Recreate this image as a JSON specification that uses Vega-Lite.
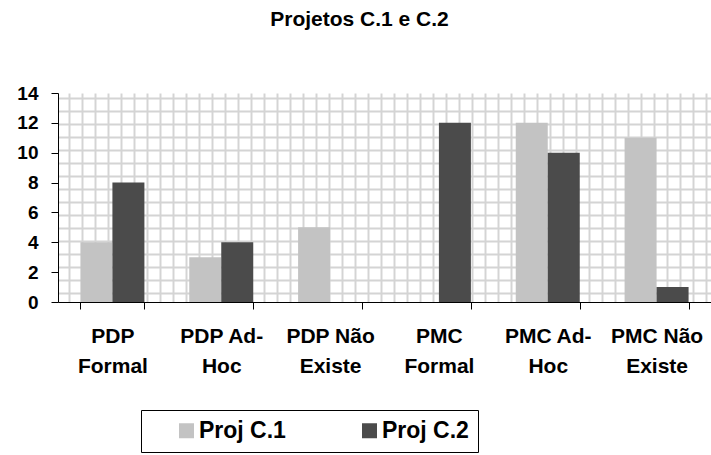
{
  "$schema": "https://vega.github.io/schema/vega-lite/v6.json",
  "width": 653,
  "height": 209,
  "autosize": {"type": "none"},
  "padding": {"left": 58, "top": 93, "right": 0, "bottom": 153},
  "background": "white",
  "config": {
    "view": {"stroke": null},
    "font": "Liberation Sans"
  },
  "title": {
    "text": "Projetos C.1 e C.2",
    "font": "Liberation Sans",
    "fontSize": 21,
    "fontWeight": "bold",
    "color": "black",
    "anchor": "middle",
    "baseline": "alphabetic",
    "offset": 37,
    "dx": -25
  },
  "layer": [
    {
      "data": {"values": [{"gx": 1, "gy": 1}]},
      "mark": {"type": "point", "opacity": 0},
      "encoding": {
        "x": {
          "field": "gx",
          "type": "quantitative",
          "scale": {"domain": [0.154, 50.385], "nice": false, "zero": false},
          "axis": {"orient": "top", "grid": true, "labels": false, "ticks": false, "domain": false, "title": null, "tickCount": 50, "gridColor": "#d4d4d4", "gridWidth": 2, "gridOpacity": 1}
        },
        "y": {
          "field": "gy",
          "type": "quantitative",
          "scale": {"domain": [0.308, 16.385], "nice": false, "zero": false},
          "axis": {"orient": "right", "grid": true, "labels": false, "ticks": false, "domain": false, "title": null, "tickCount": 16, "gridColor": "#d4d4d4", "gridWidth": 2, "gridOpacity": 1}
        }
      }
    },
    {
      "data": {
        "values": [
          {"categoria": "PDP Formal", "serie": "Proj C.1", "valor": 4},
          {"categoria": "PDP Formal", "serie": "Proj C.2", "valor": 8},
          {"categoria": "PDP Ad-Hoc", "serie": "Proj C.1", "valor": 3},
          {"categoria": "PDP Ad-Hoc", "serie": "Proj C.2", "valor": 4},
          {"categoria": "PDP Não Existe", "serie": "Proj C.1", "valor": 5},
          {"categoria": "PDP Não Existe", "serie": "Proj C.2", "valor": 0},
          {"categoria": "PMC Formal", "serie": "Proj C.1", "valor": 0},
          {"categoria": "PMC Formal", "serie": "Proj C.2", "valor": 12},
          {"categoria": "PMC Ad-Hoc", "serie": "Proj C.1", "valor": 12},
          {"categoria": "PMC Ad-Hoc", "serie": "Proj C.2", "valor": 10},
          {"categoria": "PMC Não Existe", "serie": "Proj C.1", "valor": 11},
          {"categoria": "PMC Não Existe", "serie": "Proj C.2", "valor": 1}
        ]
      },
      "mark": {"type": "bar"},
      "encoding": {
        "x": {
          "field": "categoria",
          "type": "nominal",
          "sort": null,
          "scale": {"paddingInner": 0.412, "paddingOuter": 0.206},
          "axis": {
            "title": null,
            "labelAngle": 0,
            "labelFont": "Liberation Sans",
            "labelFontSize": 21,
            "labelFontWeight": "bold",
            "labelColor": "black",
            "labelPadding": 16,
            "labelLineHeight": 30,
            "labelBaseline": "top",
            "labelLimit": 0,
            "labelExpr": "split(replace(replace(replace(datum.label, ' Formal', '|Formal'), ' Existe', '|Existe'), 'Ad-', 'Ad-|'), '|')",
            "tickBand": "extent",
            "tickSize": 7,
            "tickColor": "black",
            "domainColor": "black",
            "grid": false
          }
        },
        "xOffset": {"field": "serie", "type": "nominal"},
        "y": {
          "field": "valor",
          "type": "quantitative",
          "scale": {"domain": [0, 14], "nice": false},
          "axis": {
            "title": null,
            "values": [0, 2, 4, 6, 8, 10, 12, 14],
            "labelFont": "Liberation Sans",
            "labelFontSize": 19,
            "labelFontWeight": "bold",
            "labelColor": "black",
            "labelPadding": 13,
            "tickSize": 7,
            "tickColor": "black",
            "domainColor": "black",
            "grid": false
          }
        },
        "color": {
          "field": "serie",
          "type": "nominal",
          "scale": {"domain": ["Proj C.1", "Proj C.2"], "range": ["#c3c3c3", "#4b4b4b"]},
          "legend": {
            "title": null,
            "orient": "none",
            "legendX": 83,
            "legendY": 317,
            "direction": "horizontal",
            "strokeColor": "black",
            "fillColor": "white",
            "padding": 9,
            "symbolType": "square",
            "symbolSize": 225,
            "symbolStrokeWidth": 0,
            "symbolOpacity": 1,
            "symbolOffset": 25,
            "labelFont": "Liberation Sans",
            "labelFontSize": 23,
            "labelFontWeight": "bold",
            "labelColor": "black",
            "labelOffset": 1,
            "columnPadding": 47
          }
        }
      }
    }
  ],
  "resolve": {
    "scale": {"x": "independent", "y": "independent"},
    "axis": {"x": "independent", "y": "independent"}
  }
}
